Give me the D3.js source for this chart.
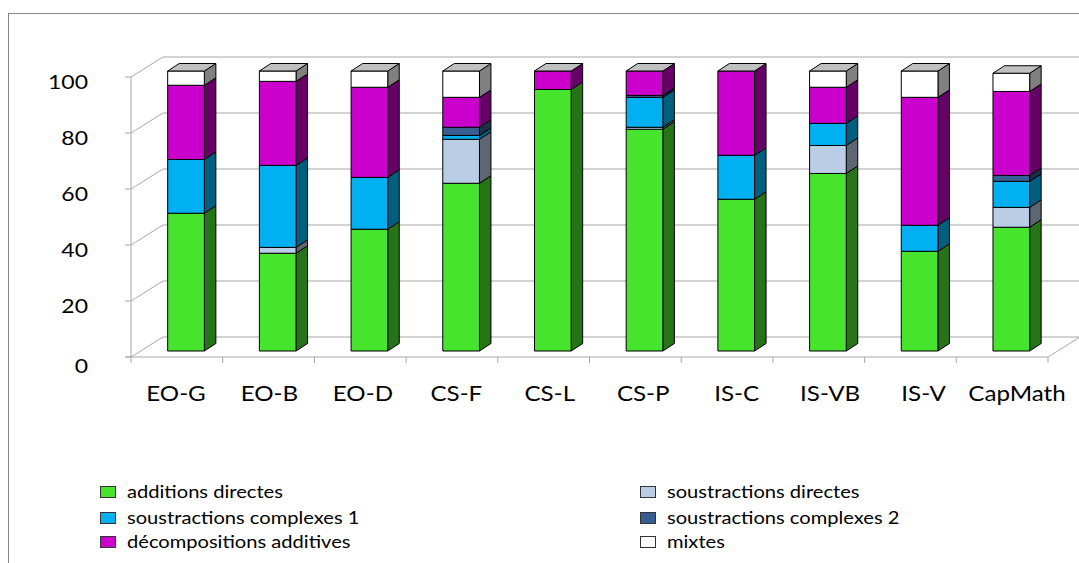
<!DOCTYPE html>
<html>
<head>
<meta charset="utf-8">
<script src="https://cdn.jsdelivr.net/npm/d3@7"></script>
<style>
  html, body { margin: 0; padding: 0; background: #fff; }
  svg { display: block; }
  text { font-family: Lato, "Open Sans", sans-serif; fill: #000; font-weight: 400; }
</style>
</head>
<body>
<svg id="chart" width="1079" height="563"></svg>
<script>
const categories = ["EO-G", "EO-B", "EO-D", "CS-F", "CS-L", "CS-P", "IS-C", "IS-VB", "IS-V", "CapMath"];
const seriesNames = ["additions directes", "soustractions directes", "soustractions complexes 1",
                     "soustractions complexes 2", "décompositions additives", "mixtes"];
const additionsDirectes       = [49.2, 34.9, 43.5, 59.9, 93.4, 79.2, 54.2, 63.4, 35.6, 44.2];
const soustractionsDirectes   = [0,    2.1,  0,    15.7, 0,    0.7,  0,    10.0, 0,    7.1];
const soustractionsComplexes1 = [19.2, 29.3, 18.5, 1.4,  0,    10.7, 15.7, 7.9,  9.3,  9.3];
const soustractionsComplexes2 = [0,    0,    0,    2.9,  0,    0.7,  0,    0,    0,    2.1];
const decompositionsAdditives = [26.5, 30.0, 32.2, 10.7, 6.6,  8.7,  30.1, 12.9, 45.7, 30.0];
const mixtes                  = [5.1,  3.7,  5.8,  9.4,  0,    0,    0,    5.8,  9.4,  6.5];
const yTicks = [0, 20, 40, 60, 80, 100];

const seriesValues = [additionsDirectes, soustractionsDirectes, soustractionsComplexes1,
                      soustractionsComplexes2, decompositionsAdditives, mixtes];
const frontColors = ["#46e42d", "#b9cde5", "#00b0f0", "#376092", "#cc00cc", "#ffffff"];
const sideColors  = ["#267318", "#5e6673", "#005e7e", "#1c304a", "#660066", "#808080"];
const topColor = "#c0c0c0";
const textStretch = 1.15;

const svg = d3.select("#chart");

// Outer frame
svg.append("rect").attr("x", 8.5).attr("y", 13.5).attr("width", 1200).attr("height", 700)
  .attr("fill", "none").attr("stroke", "#868686").attr("stroke-width", 1);

// Scales
const x = d3.scaleBand().domain(categories).range([131, 1048]);
const xLabel = d3.scalePoint().domain(categories).range([176, 1017]);   // projected label plane
const y = d3.scaleLinear().domain([0, 100]).range([357, 77]);      // front plane
const yBar = d3.scaleLinear().domain([0, 100]).range([351, 71]);   // bar plane
const wallDx = 32, wallDy = -20;
const barDx = 11.5, barDy = -7.5;
const bw = x.bandwidth();

const gridColor = "#a6a6a6";
const g = svg.append("g").attr("stroke", gridColor).attr("stroke-width", 1).attr("fill", "none");

yTicks.forEach(t => {
  const yy = y(t);
  g.append("line").attr("x1", 131).attr("y1", yy).attr("x2", 131 + wallDx).attr("y2", yy + wallDy);
  g.append("line").attr("x1", 131 + wallDx).attr("y1", yy + wallDy).attr("x2", 1079).attr("y2", yy + wallDy);
  g.append("line").attr("x1", 125).attr("y1", yy).attr("x2", 131).attr("y2", yy);
});
g.append("line").attr("x1", 131).attr("y1", y(100)).attr("x2", 131).attr("y2", y(0));
g.append("line").attr("x1", 125).attr("y1", y(0)).attr("x2", x.range()[1]).attr("y2", y(0));
g.append("line").attr("x1", x.range()[1]).attr("y1", y(0)).attr("x2", x.range()[1] + wallDx).attr("y2", y(0) + wallDy);
const boundaries = categories.map(c => x(c)).concat([x.range()[1]]);
boundaries.forEach(bx => {
  g.append("line").attr("x1", bx).attr("y1", y(0)).attr("x2", bx).attr("y2", y(0) + 6);
});

// Y labels
svg.append("g").selectAll("text").data(yTicks).join("text")
  .attr("transform", d => `translate(88,${y(d) + (d === 0 ? 9 : 5)}) scale(${textStretch},1)`)
  .attr("dy", "0.36em")
  .attr("text-anchor", "end").attr("font-size", 20).text(d => d);

// Category labels
svg.append("g").selectAll("text").data(categories).join("text")
  .attr("transform", d => `translate(${xLabel(d)},401) scale(${textStretch},1)`)
  .attr("text-anchor", "middle").attr("font-size", 21).text(d => d);

// Bars
const barsG = svg.append("g");
categories.forEach((c, i) => {
  const bx0 = x(c) + bw * 0.4;
  const bwid = bw * 0.4;
  let cum = 0;
  let lastIdx = -1;
  seriesValues.forEach((vals, s) => { if (vals[i] > 0) lastIdx = s; });
  seriesValues.forEach((vals, s) => {
    const v = vals[i];
    if (v <= 0) return;
    const y0 = yBar(cum), y1 = yBar(cum + v);
    cum += v;
    const bg = barsG.append("g").attr("stroke", "#000").attr("stroke-width", 1).attr("stroke-linejoin", "round");
    bg.append("path")
      .attr("d", `M${bx0 + bwid},${y0} L${bx0 + bwid + barDx},${y0 + barDy} L${bx0 + bwid + barDx},${y1 + barDy} L${bx0 + bwid},${y1} Z`)
      .attr("fill", sideColors[s]);
    bg.append("rect").attr("x", bx0).attr("y", y1).attr("width", bwid).attr("height", y0 - y1)
      .attr("fill", frontColors[s]);
    if (s === lastIdx) {
      bg.append("path")
        .attr("d", `M${bx0},${y1} L${bx0 + barDx},${y1 + barDy} L${bx0 + bwid + barDx},${y1 + barDy} L${bx0 + bwid},${y1} Z`)
        .attr("fill", topColor);
    }
  });
});

// Legend
const legendPos = [
  [100, 492], [640, 492],
  [100, 518], [640, 518],
  [100, 542], [640, 542]
];
const legendG = svg.append("g");
seriesNames.forEach((name, s) => {
  const [lx, ly] = legendPos[s];
  legendG.append("rect").attr("x", lx + 0.5).attr("y", ly - 5.5).attr("width", 15).attr("height", 11)
    .attr("fill", frontColors[s]).attr("stroke", "#333").attr("stroke-width", 1);
  legendG.append("text")
    .attr("transform", `translate(${lx + 27},${ly}) scale(${textStretch},1)`)
    .attr("dy", "0.35em")
    .attr("font-size", 17.5).text(name);
});
</script>
</body>
</html>
